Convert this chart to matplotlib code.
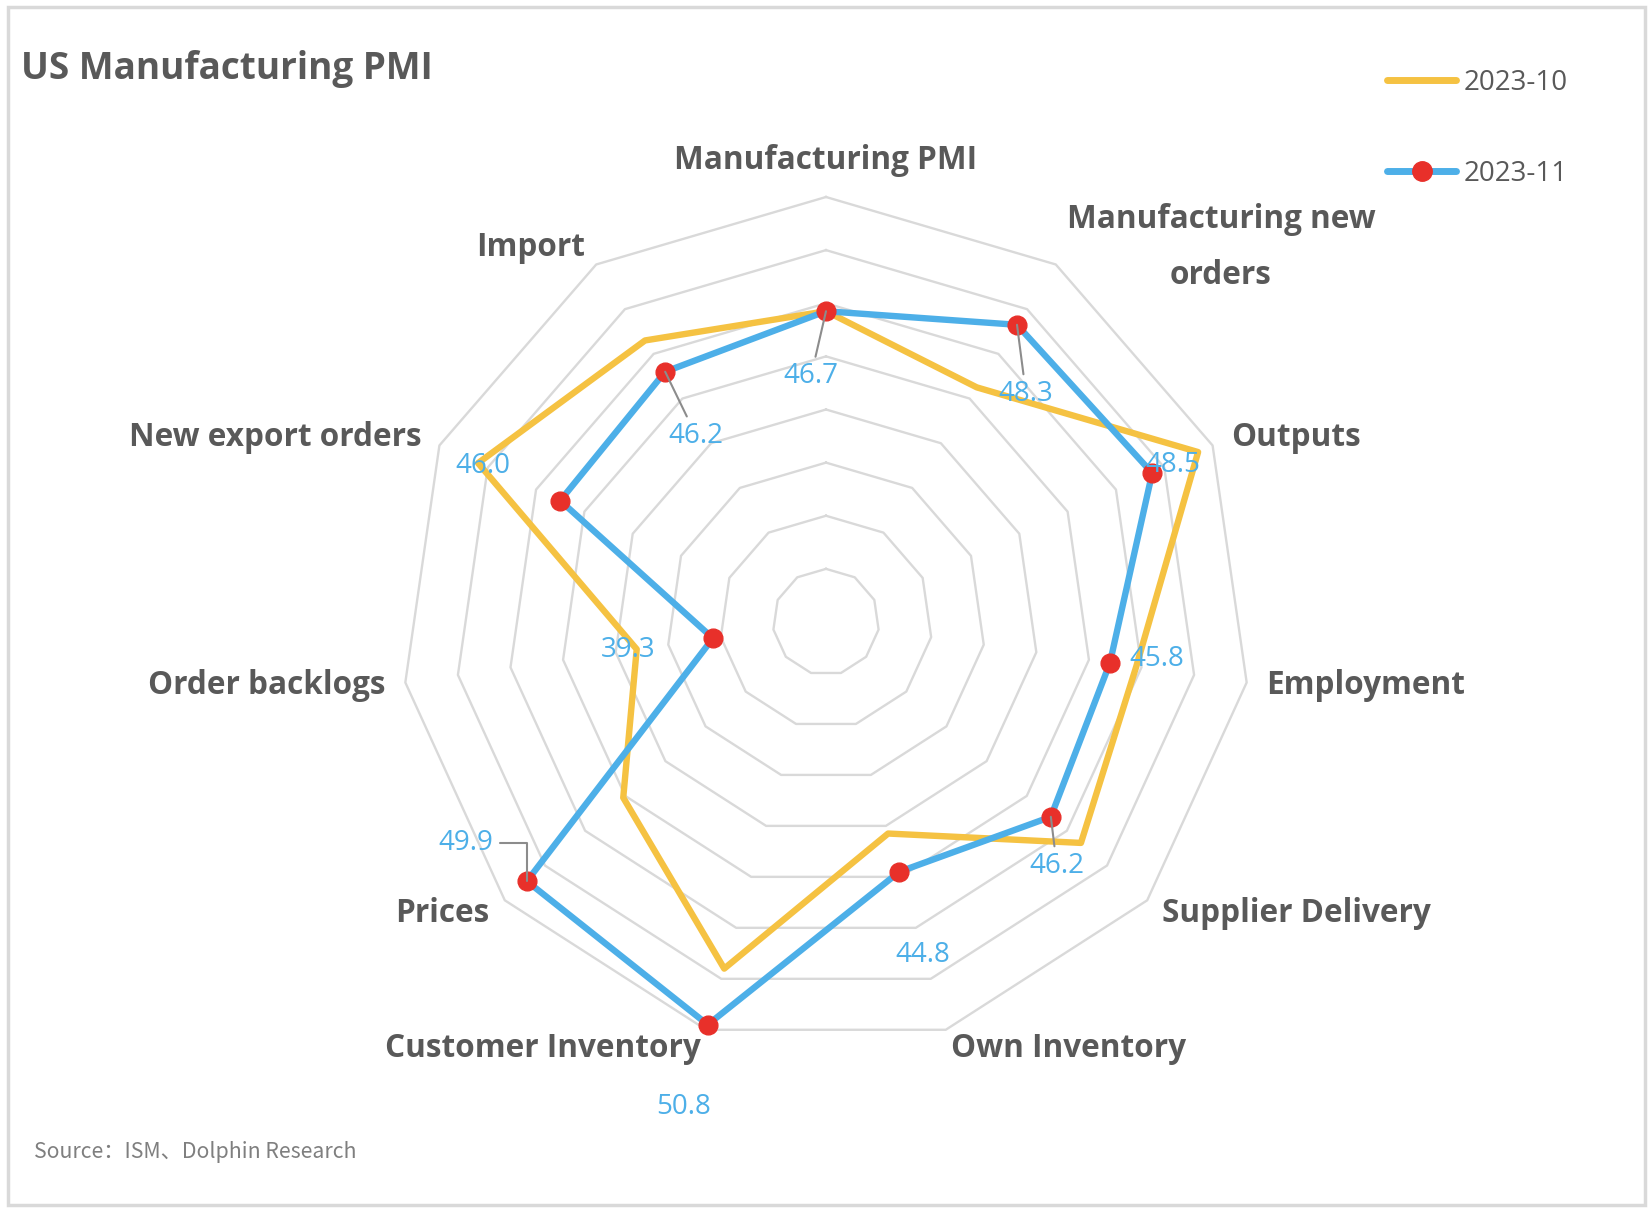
import numpy as np
import matplotlib.pyplot as plt
from matplotlib.lines import Line2D
from matplotlib.patches import Rectangle

plt.rcParams['font.family'] = ['Open Sans', 'Noto Sans CJK SC', 'DejaVu Sans']

categories = ['Manufacturing PMI', 'Manufacturing new\norders', 'Outputs', 'Employment',
              'Supplier Delivery', 'Own Inventory', 'Customer Inventory', 'Prices',
              'Order backlogs', 'New export orders', 'Import']
oct_2023 = [46.7, 45.5, 50.4, 46.8, 47.7, 43.3, 48.6, 45.1, 42.2, 49.4, 47.6]
nov_2023 = [46.7, 48.3, 48.5, 45.8, 46.2, 44.8, 50.8, 49.9, 39.3, 46.0, 46.2]
series_names = ['2023-10', '2023-11']
r_min, r_max, r_step = 35, 51, 2

# label placement (pixel offsets from each point, y up) and which get a leader line
lab_dx = [-15, 9, 21, 47, 6, 23, -24, -61, -85, -77, 31]
lab_dy = [-65, -69, 8, 4, -49, -83, -82, 38, -12, 35, -64]
leader = [True, True, False, False, True, False, False, 'elbow', False, False, True]
cat_ha = ['center', 'left', 'left', 'left', 'left', 'left', 'right', 'right', 'right', 'right', 'right']
cat_va = ['bottom'] + ['center'] * 10

YELLOW = '#F5C242'
BLUE = '#4DAFE8'
RED = '#E8302A'
GRID = '#D9D9D9'
TXT = '#595959'

W, H = 1652, 1212
fig = plt.figure(figsize=(W / 100, H / 100), dpi=100)
fig.patch.set_facecolor('white')

cx, cy, R = 826, 622, 425
ax = fig.add_axes([(cx - R) / W, (H - cy - R) / H, 2 * R / W, 2 * R / H], projection='polar')
ax.set_theta_zero_location('N')
ax.set_theta_direction(-1)
ax.set_ylim(r_min, r_max)
ax.grid(False)
ax.set_xticks([])
ax.set_yticks([])
ax.spines['polar'].set_visible(False)
ax.patch.set_alpha(0)

n = len(categories)
theta = np.arange(n) * 2 * np.pi / n
theta_c = np.append(theta, theta[0])

# polygon grid rings
for r in np.arange(r_min + r_step, r_max + 0.1, r_step):
    ax.plot(theta_c, [r] * (n + 1), color=GRID, lw=1.7, zorder=1, clip_on=False)

ax.plot(theta_c, oct_2023 + oct_2023[:1], color=YELLOW, lw=4.6, zorder=3, clip_on=False)
ax.plot(theta_c, nov_2023 + nov_2023[:1], color=BLUE, lw=4.6, zorder=4, clip_on=False)
ax.plot(theta, nov_2023, ls='none', marker='o', ms=13.5, color=RED, zorder=5, clip_on=False)

# data labels
for i, v in enumerate(nov_2023):
    kw = {}
    if leader[i] == 'elbow':
        kw['arrowprops'] = dict(arrowstyle='-', color='#8C8C8C', lw=1.5, shrinkA=3, shrinkB=0,
                                connectionstyle='angle,angleA=0,angleB=90,rad=0')
    elif leader[i]:
        kw['arrowprops'] = dict(arrowstyle='-', color='#8C8C8C', lw=1.5, shrinkA=2, shrinkB=0)
    ax.annotate(f'{v:.1f}', xy=(theta[i], v), xytext=(lab_dx[i], lab_dy[i]),
                textcoords='offset pixels', ha='center', va='center',
                fontsize=20, color=BLUE, zorder=6, annotation_clip=False, **kw)

# category labels
for i, c in enumerate(categories):
    ax.text(theta[i], 51.75, c, ha=cat_ha[i], va=cat_va[i], fontsize=22.7,
            fontweight='bold', color=TXT, multialignment='center', linespacing=1.9)

fig.text(21 / W, 1 - 69 / H, 'US Manufacturing PMI', ha='left', va='center',
         fontsize=26.6, fontweight='bold', color=TXT)
fig.text(34 / W, 1 - 1152 / H, 'Source：ISM、Dolphin Research', ha='left', va='center',
         fontsize=15.3, color='#7F7F7F', family=['Noto Sans CJK SC', 'DejaVu Sans'])

handles = [Line2D([], [], color=YELLOW, lw=5, solid_capstyle='round'),
           Line2D([], [], color=BLUE, lw=5, solid_capstyle='round',
                  marker='o', ms=14, mfc=RED, mec=RED)]
fig.legend(handles, series_names, loc='upper right', bbox_to_anchor=(1582 / W, 1 - 55 / H),
           frameon=False, fontsize=20, handlelength=2.5, labelspacing=2.28,
           handletextpad=0.27, borderpad=0, labelcolor=TXT)

fig.patches.append(Rectangle((8 / W, 7 / H), (1645 - 8) / W, (1205 - 7) / H,
                             transform=fig.transFigure, fill=False, ec=GRID, lw=2.5))

fig.savefig('out.png', dpi=100)
